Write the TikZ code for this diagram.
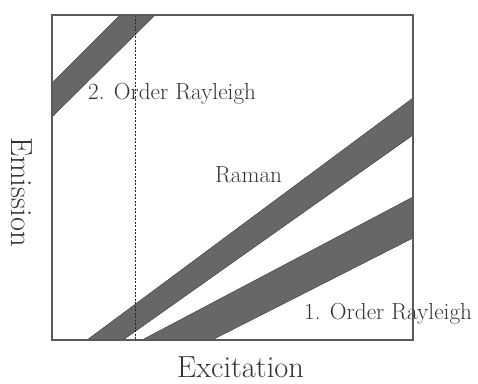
\documentclass[tikz,border=0pt]{standalone}
\begin{document}
\begin{tikzpicture}[x=1pt,y=-1pt,
  band/.style={fill=bandgrey,draw=banddark,line width=0.5pt},
  frame/.style={draw=framegrey,line width=1.1pt},
  lbl/.style={font=\fontsize{23.2}{26}\selectfont,text=txtgrey,inner sep=0pt,anchor=base west},
  axis/.style={font=\fontsize{30.5}{33}\selectfont,text=txtgrey,inner sep=0pt,anchor=base west},
  marker/.style={draw=black!85,line width=0.9pt,dash pattern=on 2pt off 1.5pt}]
\definecolor{bandgrey}{HTML}{676767}
\definecolor{banddark}{HTML}{444444}
\definecolor{framegrey}{HTML}{5A5A5A}
\definecolor{txtgrey}{HTML}{333333}
\useasboundingbox (0,0) rectangle (478,383);
\coordinate (bl) at (52,340);
\coordinate (tr) at (413,15);
\begin{scope}
\clip (bl) rectangle (tr);
% 2. order Rayleigh
\path[band] (52,83) -- (120,15) -- (155,15) -- (52,117) -- cycle;
% Raman
\path[band] (87,340) -- (123,340) -- (413,135) -- (413,98) -- cycle;
% 1. order Rayleigh
\path[band] (142,340) -- (212,340) -- (413,238) -- (413,197) -- cycle;
\end{scope}
\coordinate (dtop) at (135,15);
\coordinate (dbot) at (135,340);
\draw[marker] (dtop) -- (dbot);
\draw[frame] (bl) rectangle (tr);
\node[lbl] (r2) at (88,99) {2. Order Rayleigh};
\node[lbl] (ram) at (215,182) {Raman};
\node[lbl] (r1) at (304,319) {1. Order Rayleigh};
\node[axis] (xl) at (177,377) {Excitation};
\node[axis,rotate=-90] (yl) at (11,137) {Emission};
\end{tikzpicture}
\end{document}
